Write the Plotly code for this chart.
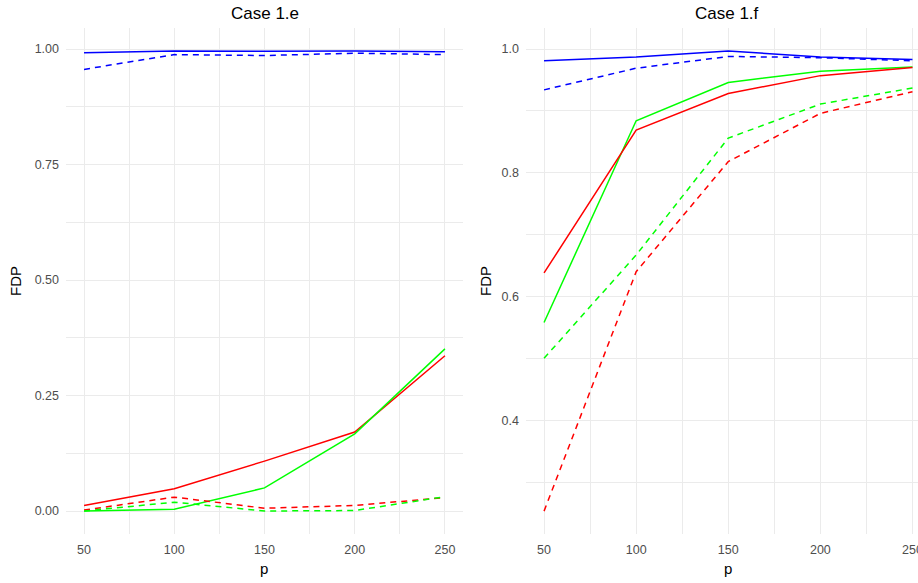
import plotly.graph_objects as go

p = [50, 100, 150, 200, 250]

# Case 1.e
e_blue_solid = [0.992, 0.996, 0.995, 0.996, 0.994]
e_blue_dash = [0.956, 0.988, 0.986, 0.991, 0.988]
e_red_solid = [0.012, 0.048, 0.108, 0.171, 0.336]
e_green_solid = [0.0, 0.004, 0.050, 0.167, 0.351]
e_red_dash = [0.002, 0.030, 0.006, 0.012, 0.029]
e_green_dash = [0.0, 0.019, 0.0, 0.001, 0.031]

# Case 1.f
f_blue_solid = [0.981, 0.987, 0.997, 0.987, 0.983]
f_blue_dash = [0.934, 0.969, 0.988, 0.986, 0.981]
f_green_solid = [0.558, 0.884, 0.946, 0.964, 0.971]
f_red_solid = [0.638, 0.869, 0.928, 0.957, 0.970]
f_green_dash = [0.500, 0.667, 0.856, 0.911, 0.937]
f_red_dash = [0.253, 0.640, 0.818, 0.896, 0.931]

titles = ["Case 1.e", "Case 1.f"]
x_ticks = [50, 100, 150, 200, 250]
e_y_ticks = [0.0, 0.25, 0.5, 0.75, 1.0]
e_y_labels = ["0.00", "0.25", "0.50", "0.75", "1.00"]
f_y_ticks = [0.4, 0.6, 0.8, 1.0]
f_y_labels = ["0.4", "0.6", "0.8", "1.0"]

BLUE, RED, GREEN = "#0000FF", "#FF0000", "#00FF00"
DASH = "6px,5px"
LW = 1.5

fig = go.Figure()

def add(y, color, dash, xa, ya):
    fig.add_trace(go.Scatter(x=p, y=y, mode="lines",
                             line=dict(color=color, width=LW, dash=dash),
                             xaxis=xa, yaxis=ya, showlegend=False,
                             hoverinfo="skip"))

for y, c, d in [(e_blue_solid, BLUE, "solid"), (e_blue_dash, BLUE, DASH),
                (e_red_solid, RED, "solid"), (e_green_solid, GREEN, "solid"),
                (e_red_dash, RED, DASH), (e_green_dash, GREEN, DASH)]:
    add(y, c, d, "x", "y")

for y, c, d in [(f_blue_solid, BLUE, "solid"), (f_blue_dash, BLUE, DASH),
                (f_green_solid, GREEN, "solid"), (f_red_solid, RED, "solid"),
                (f_green_dash, GREEN, DASH), (f_red_dash, RED, DASH)]:
    add(y, c, d, "x2", "y2")

W, H = 918, 583
GRID = "#EBEBEB"
TICKFONT = dict(family="Liberation Sans, Arial, sans-serif", size=12.5, color="#4D4D4D")

def xaxis(domain, rng, anchor):
    return dict(domain=domain, range=rng, anchor=anchor, automargin=False,
                tickvals=x_ticks, ticktext=[str(v) for v in x_ticks],
                showgrid=True, gridcolor=GRID, gridwidth=1.1,
                minor=dict(tickvals=[75, 125, 175, 225], showgrid=True,
                           gridcolor=GRID, gridwidth=0.55),
                zeroline=False, showline=False, ticks="",
                ticklabelstandoff=6, ticklabeloverflow="allow",
                tickfont=TICKFONT, fixedrange=True)

def yaxis(domain, rng, anchor, tv, tt, minor):
    return dict(domain=domain, range=rng, anchor=anchor, automargin=False,
                tickvals=tv, ticktext=tt,
                showgrid=True, gridcolor=GRID, gridwidth=1.1,
                minor=dict(tickvals=minor, showgrid=True,
                           gridcolor=GRID, gridwidth=0.55),
                zeroline=False, showline=False, ticks="",
                ticklabelstandoff=6,
                tickfont=TICKFONT, fixedrange=True)

ydom = [1 - 534 / H, 1 - 28 / H]
fig.update_layout(
    width=W, height=H,
    margin=dict(l=0, r=0, t=0, b=0),
    paper_bgcolor="white", plot_bgcolor="white",
    font=dict(family="Liberation Sans, Arial, sans-serif"),
    xaxis=xaxis([66 / W, 463 / W], [40, 260], "y"),
    yaxis=yaxis(ydom, [-0.0498, 1.0456], "x", e_y_ticks, e_y_labels,
                [0.125, 0.375, 0.625, 0.875]),
    xaxis2=xaxis([526 / W, 1.0], [40.2, 253.0], "y2"),
    yaxis2=yaxis(ydom, [0.216, 1.034], "x2", f_y_ticks, f_y_labels,
                 [0.3, 0.5, 0.7, 0.9]),
)

ann_font = dict(family="Liberation Sans, Arial, sans-serif", size=15, color="black")
title_font = dict(family="Liberation Sans, Arial, sans-serif", size=17, color="black")
for xc, t in [(265, titles[0]), (727, titles[1])]:
    fig.add_annotation(x=xc / W, y=1 - 14 / H, xref="paper", yref="paper",
                       text=t, showarrow=False, font=title_font,
                       xanchor="center", yanchor="middle")
for xc in [264, 728]:
    fig.add_annotation(x=xc / W, y=1 - 568 / H, xref="paper", yref="paper",
                       text="p", showarrow=False, font=ann_font,
                       xanchor="center", yanchor="middle")
for xc in [15, 485]:
    fig.add_annotation(x=xc / W, y=1 - 281 / H, xref="paper", yref="paper",
                       text="FDP", showarrow=False, font=ann_font, textangle=-90,
                       xanchor="center", yanchor="middle")

fig.write_html(
    "out.html",
    config={"displayModeBar": False},
    post_script="document.body.style.margin='0';document.body.style.padding='0';"
                "document.body.style.overflow='hidden';",
)
